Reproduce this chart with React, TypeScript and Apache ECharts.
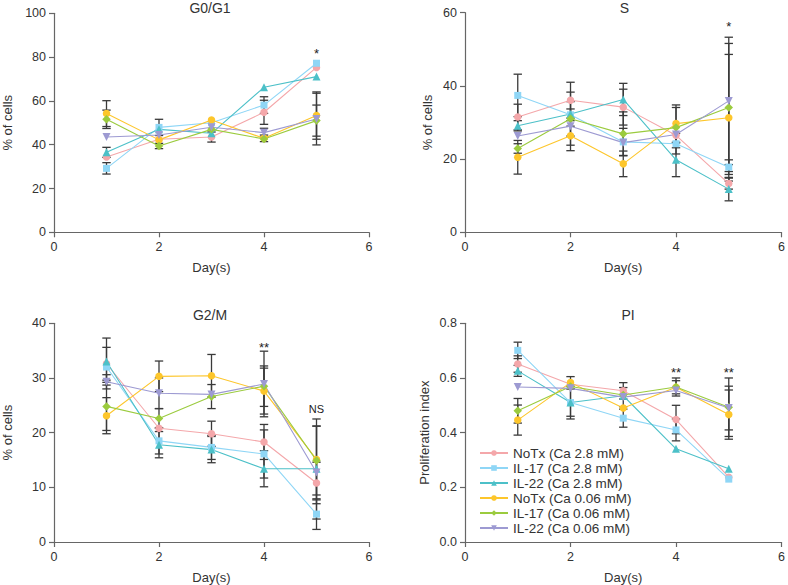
import React, { useEffect, useRef } from "react";
import * as echarts from "echarts";

const days = [1, 2, 3, 4, 5];
const seriesNames = [
  "NoTx (Ca 2.8 mM)",
  "IL-17 (Ca 2.8 mM)",
  "IL-22 (Ca 2.8 mM)",
  "NoTx (Ca 0.06 mM)",
  "IL-17 (Ca 0.06 mM)",
  "IL-22 (Ca 0.06 mM)",
];
const panelTitles = ["G0/G1", "S", "G2/M", "PI"];
const yAxisNames = ["% of cells", "% of cells", "% of cells", "Proliferation index"];
const xAxisName = "Day(s)";
const yMaxes = [100, 60, 40, 0.8];
const yIntervals = [20, 20, 10, 0.2];
const xTicks = [0, 2, 4, 6];

// G0/G1 (% of cells)
const g1NoTx28 = [34.4, 42.5, 43.5, 54.8, 75.3];
const g1IL1728 = [29.2, 47.9, 50.0, 58.1, 77.2];
const g1IL2228 = [36.5, 47.0, 45.2, 66.2, 71.1];
const g1NoTx006 = [54.2, 42.2, 51.3, 42.9, 53.3];
const g1IL17006 = [51.6, 39.4, 47.0, 42.6, 51.0];
const g1IL22006 = [43.5, 44.4, 48.0, 45.5, 51.7];
const g1ErrNoTx28 = [0, 0, 2.3, 5.5, 0];
const g1ErrIL1728 = [2.6, 3.7, 0, 3.8, 0];
const g1ErrIL2228 = [2.3, 0, 0, 0, 0];
const g1ErrNoTx006 = [5.9, 0, 0, 1.5, 10.8];
const g1ErrIL17006 = [4.2, 1.2, 0, 0, 7.1];
const g1ErrIL22006 = [0, 0, 0, 2.0, 11.8];

// S (% of cells)
const sNoTx28 = [31.5, 36.1, 34.2, 26.5, 13.3];
const sIL1728 = [37.4, 32.1, 24.7, 24.2, 17.8];
const sIL2228 = [29.1, 32.3, 36.3, 19.8, 11.8];
const sNoTx006 = [20.5, 26.4, 18.7, 29.7, 31.3];
const sIL17006 = [22.9, 31.0, 26.9, 28.6, 34.1];
const sIL22006 = [26.3, 29.0, 24.5, 26.7, 35.9];
const sErrNoTx28 = [3.5, 4.9, 4.9, 0, 1.5];
const sErrIL1728 = [5.8, 1.6, 3.7, 2.8, 2.0];
const sErrIL2228 = [1.4, 6.0, 4.4, 4.6, 3.2];
const sErrNoTx006 = [4.6, 2.6, 3.5, 5.1, 17.3];
const sErrIL17006 = [1.3, 0, 6.0, 5.5, 17.5];
const sErrIL22006 = [0, 6.7, 0, 0, 17.4];

// G2/M (% of cells)
const gNoTx28 = [32.6, 20.8, 19.8, 18.3, 10.8];
const gIL1728 = [32.0, 18.5, 17.3, 16.1, 5.1];
const gIL2228 = [33.0, 17.8, 16.9, 13.4, 13.4];
const gNoTx006 = [23.1, 30.3, 30.4, 27.6, 15.1];
const gIL17006 = [24.8, 22.6, 26.6, 28.5, 14.9];
const gIL22006 = [29.3, 27.2, 27.0, 28.9, 12.7];
const gErrNoTx28 = [3.0, 0, 2.3, 3.2, 3.8];
const gErrIL1728 = [0, 2.4, 2.2, 4.4, 2.8];
const gErrIL2228 = [4.3, 2.4, 2.4, 3.3, 0];
const gErrNoTx006 = [3.3, 2.8, 3.9, 4.2, 7.4];
const gErrIL17006 = [4.4, 1.8, 2.2, 3.7, 6.3];
const gErrIL22006 = [1.3, 2.8, 0, 6.0, 8.5];

// PI (proliferation index)
const pNoTx28 = [0.651, 0.577, 0.553, 0.448, 0.237];
const pIL1728 = [0.701, 0.51, 0.453, 0.41, 0.23];
const pIL2228 = [0.626, 0.51, 0.535, 0.341, 0.268];
const pNoTx006 = [0.446, 0.583, 0.49, 0.566, 0.466];
const pIL17006 = [0.48, 0.569, 0.538, 0.567, 0.493];
const pIL22006 = [0.567, 0.562, 0.53, 0.554, 0.49];
const pErrNoTx28 = [0.03, 0, 0.03, 0.052, 0];
const pErrIL1728 = [0.03, 0.05, 0.033, 0.04, 0];
const pErrIL2228 = [0.02, 0.06, 0, 0, 0];
const pErrNoTx006 = [0.055, 0.022, 0, 0.024, 0.09];
const pErrIL17006 = [0.045, 0, 0, 0.033, 0.107];
const pErrIL22006 = [0, 0, 0.035, 0, 0.08];

// significance annotations: [panel, day, y, text]
const annotations: [number, number, number, string][] = [
  [0, 5, 81.5, "*"],
  [1, 5, 56.1, "*"],
  [2, 4, 35.65, "**"],
  [2, 5, 24.3, "NS"],
  [3, 4, 0.621, "**"],
  [3, 5, 0.621, "**"],
];

const panelValues = [
  [g1NoTx28, g1IL1728, g1IL2228, g1NoTx006, g1IL17006, g1IL22006],
  [sNoTx28, sIL1728, sIL2228, sNoTx006, sIL17006, sIL22006],
  [gNoTx28, gIL1728, gIL2228, gNoTx006, gIL17006, gIL22006],
  [pNoTx28, pIL1728, pIL2228, pNoTx006, pIL17006, pIL22006],
];
const panelErrors = [
  [g1ErrNoTx28, g1ErrIL1728, g1ErrIL2228, g1ErrNoTx006, g1ErrIL17006, g1ErrIL22006],
  [sErrNoTx28, sErrIL1728, sErrIL2228, sErrNoTx006, sErrIL17006, sErrIL22006],
  [gErrNoTx28, gErrIL1728, gErrIL2228, gErrNoTx006, gErrIL17006, gErrIL22006],
  [pErrNoTx28, pErrIL1728, pErrIL2228, pErrNoTx006, pErrIL17006, pErrIL22006],
];

const colors = ["#f4a7aa", "#8fd6f6", "#4cc0c8", "#fdc62b", "#9bcb3e", "#9d9ad2"];
const symbols = ["circle", "rect", "triangle", "circle", "diamond", "triangle"];
const symbolRotates = [0, 0, 0, 0, 0, 180];
const symbolSizes = [7.5, 7, 8, 7.5, 8.5, 8];

const FONT = "Liberation Sans, Arial, sans-serif";
const TEXT = "#333";

export default function App() {
  const ref = useRef<HTMLDivElement>(null);
  useEffect(() => {
    if (!ref.current) return;
    const chart = echarts.init(ref.current, undefined, { renderer: "svg" });
    const grids = [
      { left: 50, top: 13.3, width: 319, height: 219 },
      { left: 465, top: 12.7, width: 319, height: 219.6 },
      { left: 50, top: 323.3, width: 319, height: 219 },
      { left: 465, top: 323.3, width: 319, height: 219 },
    ];
    const nameGaps = [40, 31, 40, 34];
    const xAxis = grids.map((_, i) => ({
      type: "value",
      gridIndex: i,
      min: xTicks[0],
      max: xTicks[xTicks.length - 1],
      interval: 2,
      name: xAxisName,
      nameLocation: "middle",
      nameGap: 29,
      nameTextStyle: { fontSize: 13, color: TEXT, fontFamily: FONT },
      axisLine: { show: true, lineStyle: { color: "#666", width: 1.2 } },
      axisTick: { show: true, length: 5, lineStyle: { color: "#666", width: 1.2 } },
      axisLabel: { fontSize: 12.5, color: TEXT, fontFamily: FONT, margin: 8 },
      splitLine: { show: false },
    }));
    const yAxis = grids.map((_, i) => ({
      type: "value",
      gridIndex: i,
      min: 0,
      max: yMaxes[i],
      interval: yIntervals[i],
      name: yAxisNames[i],
      nameLocation: "middle",
      nameGap: nameGaps[i],
      nameTextStyle: { fontSize: 13, color: TEXT, fontFamily: FONT },
      axisLine: { show: true, lineStyle: { color: "#666", width: 1.2 } },
      axisTick: { show: true, length: 5, lineStyle: { color: "#666", width: 1.2 } },
      axisLabel: {
        fontSize: 12.5,
        color: TEXT,
        fontFamily: FONT,
        margin: 8,
        formatter: (v: number) => (i === 3 ? v.toFixed(1) : String(v)),
      },
      splitLine: { show: false },
    }));

    const series: any[] = [];
    panelValues.forEach((vals, p) => {
      const errData: number[][] = [];
      vals.forEach((arr, s) => {
        arr.forEach((v, d) => {
          const e = panelErrors[p][s][d];
          if (e > 0) errData.push([days[d], v - e, v + e]);
        });
      });
      series.push({
        type: "custom",
        name: "errorbars" + p,
        xAxisIndex: p,
        yAxisIndex: p,
        z: 1,
        silent: true,
        data: errData,
        encode: { x: 0, y: [1, 2] },
        renderItem: (params: any, api: any) => {
          const x = api.value(0);
          const top = api.coord([x, api.value(2)]);
          const bot = api.coord([x, api.value(1)]);
          const w = 4.2;
          const style = { stroke: "#3a3a3a", lineWidth: 1.3 };
          return {
            type: "group",
            children: [
              { type: "line", shape: { x1: top[0], y1: top[1], x2: bot[0], y2: bot[1] }, style },
              { type: "line", shape: { x1: top[0] - w, y1: top[1], x2: top[0] + w, y2: top[1] }, style },
              { type: "line", shape: { x1: bot[0] - w, y1: bot[1], x2: bot[0] + w, y2: bot[1] }, style },
            ],
          };
        },
      });
      vals.forEach((arr, s) => {
        series.push({
          type: "line",
          name: seriesNames[s],
          xAxisIndex: p,
          yAxisIndex: p,
          z: 3,
          data: arr.map((v, d) => [days[d], v]),
          symbol: symbols[s],
          symbolRotate: symbolRotates[s],
          symbolSize: symbolSizes[s],
          showAllSymbol: true,
          color: colors[s],
          itemStyle: { color: colors[s] },
          lineStyle: { color: colors[s], width: 1.1 },
        });
      });
      const ann = annotations.filter((a) => a[0] === p);
      series.push({
        type: "custom",
        name: "annot" + p,
        xAxisIndex: p,
        yAxisIndex: p,
        z: 4,
        silent: true,
        data: ann.map((a) => [a[1], a[2], a[3]]),
        encode: { x: 0, y: 1 },
        renderItem: (params: any, api: any) => {
          const pt = api.coord([api.value(0), api.value(1)]);
          const txt = ann[params.dataIndex][3];
          return {
            type: "text",
            x: pt[0],
            y: pt[1],
            style: {
              text: txt,
              fill: "#222",
              fontFamily: FONT,
              fontSize: txt === "NS" ? 11 : 13,
              align: "center",
              verticalAlign: "middle",
            },
          };
        },
      });
    });

    const titleCenters = [
      [210, 8],
      [624.5, 8],
      [210, 315],
      [628, 315],
    ];
    const graphic = panelTitles.map((t, i) => ({
      type: "text",
      x: titleCenters[i][0],
      y: titleCenters[i][1],
      silent: true,
      style: {
        text: t,
        fontSize: 14,
        fontFamily: FONT,
        fill: TEXT,
        align: "center",
        verticalAlign: "middle",
      },
    }));

    chart.setOption({
      animation: false,
      backgroundColor: "#fff",
      grid: grids,
      xAxis,
      yAxis,
      series,
      graphic,
      legend: {
        data: seriesNames,
        orient: "vertical",
        left: 479,
        top: 446,
        itemWidth: 28,
        itemHeight: 7,
        itemGap: 1,
        padding: 0,
        selectedMode: false,
        textStyle: { fontSize: 13.5, color: TEXT, fontFamily: FONT, lineHeight: 14 },
      },
    });
    return () => chart.dispose();
  }, []);
  return (
    <div
      ref={ref}
      style={{ position: "absolute", left: 0, top: 0, width: 788, height: 585, background: "#fff" }}
    />
  );
}
